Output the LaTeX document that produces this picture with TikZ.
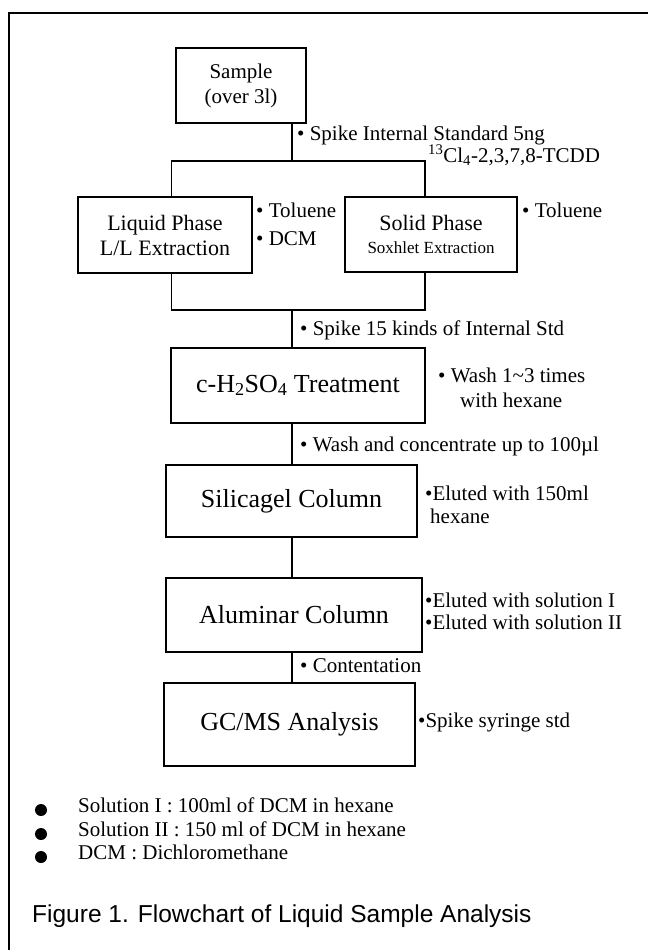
\documentclass[tikz,border=0pt]{standalone}
\usepackage{fontspec}
\setmainfont{Liberation Serif}
\newfontfamily\capfont{Liberation Sans}
\begin{document}
\begin{tikzpicture}[x=1pt,y=-1pt,
  box/.style={draw, line width=1.6pt, inner sep=0pt, align=center},
  lbl/.style={anchor=west, inner sep=0pt, text height=0.7em, text depth=0.22em, font=\fontsize{21}{25}\selectfont},
  conn/.style={line width=1.3pt},
  frame/.style={line width=1.5pt},
  big/.style={font=\fontsize{26}{30}\selectfont},
  mid/.style={font=\fontsize{22}{25}\selectfont},
  dot/.style={circle, fill, inner sep=0pt, minimum size=12pt}]
\useasboundingbox (0,0) rectangle (648,950);
% open frame
\coordinate (ftr) at (648,13);
\coordinate (ftl) at (9,13);
\coordinate (fbl) at (9,950);
\draw[frame] (ftr) -- (ftl) -- (fbl);
% boxes
\node[box, font=\fontsize{21}{25}\selectfont, minimum width=130pt, minimum height=75pt] (sample) at (241,85.5) {Sample\\(over 3l)};
\node[box, mid, minimum width=174pt, minimum height=76pt] (liq) at (165,235) {Liquid Phase\\L/L Extraction};
\node[box, mid, minimum width=172pt, minimum height=75pt] (sol) at (431,234.5) {Solid Phase\\[-2pt]{\fontsize{17}{20}\selectfont Soxhlet Extraction}};
\node[box, big, minimum width=253.5pt, minimum height=75pt] (acid) at (298,385.5) {c-H\textsubscript{2}SO\textsubscript{4} Treatment};
\node[box, big, minimum width=251pt, minimum height=72pt] (sil) at (291.5,501) {Silicagel Column};
\node[box, big, minimum width=256pt, minimum height=74pt] (alu) at (294,615) {Aluminar Column};
\node[box, big, minimum width=251pt, minimum height=83pt] (gc) at (289.5,724.5) {GC/MS Analysis};
% connectors
\coordinate (b) at (292,161);
\coordinate (bl) at (171.5,161);
\coordinate (br) at (425,161);
\coordinate (m) at (292,310);
\coordinate (ml) at (171.5,310);
\coordinate (mr) at (425,310);
\draw[conn] (sample.south -| b) -- (b);
\draw[conn] (bl |- liq.north) -- (bl) -- (br) -- (br |- sol.north);
\draw[conn] (ml |- liq.south) -- (ml) -- (mr) -- (mr |- sol.south);
\draw[conn] (m) -- (m |- acid.north);
\draw[conn] (acid.south -| m) -- (sil.north -| m);
\draw[conn] (sil.south -| m) -- (alu.north -| m);
\draw[conn] (alu.south -| m) -- (gc.north -| m);
% annotations
\node[lbl] (a1) at (297,138) {\textbullet\ Spike Internal Standard 5ng};
\node[lbl] (a2) at (428,160) {\textsuperscript{13}Cl\textsubscript{4}-2,3,7,8-TCDD};
\node[lbl] (a3) at (256,215) {\textbullet\ Toluene};
\node[lbl] (a4) at (256,243) {\textbullet\ DCM};
\node[lbl] (a5) at (522,215) {\textbullet\ Toluene};
\node[lbl] (a6) at (300,333) {\textbullet\ Spike 15 kinds of Internal Std};
\node[lbl] (a7) at (438,380) {\textbullet\ Wash 1\textasciitilde 3 times};
\node[lbl] (a8) at (460,405) {with hexane};
\node[lbl] (a9) at (300,449) {\textbullet\ Wash and concentrate up to 100µl};
\node[lbl] (a10) at (425,498) {\textbullet Eluted with 150ml};
\node[lbl] (a11) at (430,521) {hexane};
\node[lbl] (a12) at (425,605) {\textbullet Eluted with solution I};
\node[lbl] (a13) at (425,627) {\textbullet Eluted with solution II};
\node[lbl] (a14) at (300,670) {\textbullet\ Contentation};
\node[lbl] (a15) at (418,725) {\textbullet Spike syringe std};
% notes
\node[dot] (d1) at (41,810) {};
\node[dot] (d2) at (41,834) {};
\node[dot] (d3) at (41,857) {};
\node[lbl] (n1) at (78,810) {Solution I : 100ml of DCM in hexane};
\node[lbl] (n2) at (78,834) {Solution II : 150 ml of DCM in hexane};
\node[lbl] (n3) at (78,857) {DCM : Dichloromethane};
% caption
\node[anchor=west, inner sep=0pt, font=\capfont\fontsize{24.5}{28}\selectfont] (cap) at (32,916) {Figure 1. Flowchart of Liquid Sample Analysis};
\end{tikzpicture}
\end{document}
